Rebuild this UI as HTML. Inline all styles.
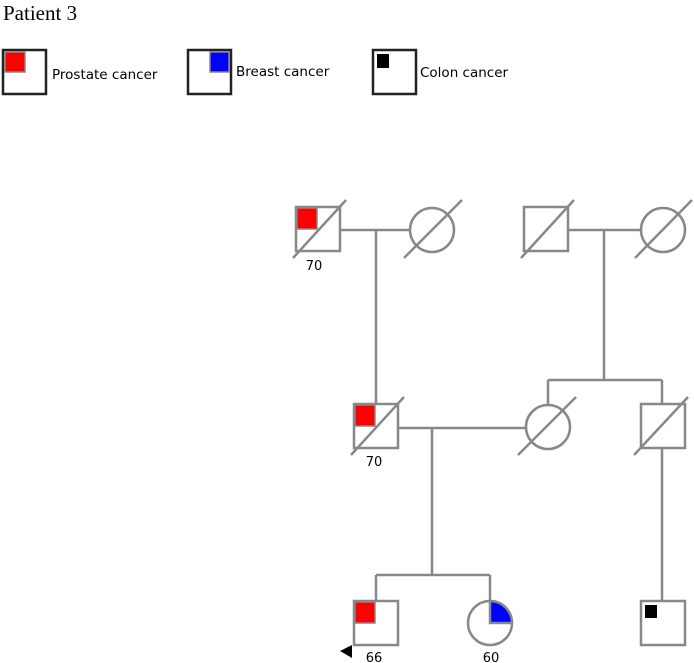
<!DOCTYPE html>
<html><head><style>
body{margin:0;background:#fff;width:694px;height:663px;overflow:hidden}
</style></head><body>
<svg width="694" height="663" xmlns="http://www.w3.org/2000/svg" style="position:absolute;left:0;top:0">
<text x="3" y="20" font-family="Liberation Serif, serif" font-size="21" fill="#000">Patient 3</text>
<g fill="none" stroke="#222" stroke-width="2.5">
<rect x="3" y="50" width="43" height="44" fill="#fff"/>
<rect x="188" y="50" width="43" height="44" fill="#fff"/>
<rect x="373" y="50" width="43" height="44" fill="#fff"/>
</g>
<rect x="5" y="52" width="20" height="20" fill="#f00" stroke="#888" stroke-width="1.5"/>
<rect x="210" y="52" width="19" height="20" fill="#00f" stroke="#888" stroke-width="1.5"/>
<rect x="377" y="54" width="12" height="14" fill="#000"/>
<g font-family="DejaVu Sans, sans-serif" font-size="13.5" fill="#000">
<text x="52" y="79">Prostate cancer</text>
<text x="236" y="76">Breast cancer</text>
<text x="420" y="77">Colon cancer</text>
</g>
<g stroke="#888" stroke-width="2.5" fill="none">
<!-- gen1 -->
<line x1="341" y1="230" x2="410" y2="230"/>
<line x1="376" y1="230" x2="376" y2="405"/>
<line x1="569" y1="230" x2="641" y2="230"/>
<line x1="604" y1="230" x2="604" y2="380"/>
<line x1="548" y1="380" x2="662" y2="380"/>
<line x1="548" y1="380" x2="548" y2="405"/>
<line x1="662" y1="380" x2="662" y2="405"/>
<!-- gen2 -->
<line x1="398" y1="428" x2="526" y2="428"/>
<line x1="432" y1="428" x2="432" y2="575"/>
<line x1="376" y1="575" x2="490" y2="575"/>
<line x1="376" y1="575" x2="376" y2="601"/>
<line x1="490" y1="575" x2="490" y2="601"/>
<line x1="662" y1="449" x2="662" y2="601"/>
</g>
<g stroke="#888" stroke-width="2.5" fill="#fff">
<rect x="296" y="207" width="44" height="44"/>
<circle cx="432" cy="230" r="22"/>
<rect x="524" y="207" width="44" height="44"/>
<circle cx="663" cy="230" r="22"/>
<rect x="354" y="404" width="44" height="44"/>
<circle cx="548" cy="427" r="22"/>
<rect x="641" y="404" width="44" height="44"/>
<rect x="354" y="601" width="44" height="44"/>
<circle cx="490" cy="623" r="22"/>
<rect x="641" y="601" width="44" height="44"/>
</g>
<rect x="297" y="208" width="20" height="21" fill="#f00" stroke="#888" stroke-width="1.5"/>
<rect x="355" y="405" width="20" height="21" fill="#f00" stroke="#888" stroke-width="1.5"/>
<rect x="355" y="602" width="20" height="21" fill="#f00" stroke="#888" stroke-width="1.5"/>
<path d="M490 623 L490 601 A22 22 0 0 1 512 623 Z" fill="#00f" stroke="#888" stroke-width="2.5"/>
<rect x="645" y="605" width="12" height="13" fill="#000"/>
<g stroke="#888" stroke-width="2.5">
<line x1="293" y1="258" x2="346" y2="200"/>
<line x1="404" y1="258" x2="462" y2="200"/>
<line x1="521" y1="258" x2="574" y2="200"/>
<line x1="635" y1="258" x2="692" y2="200"/>
<line x1="351" y1="455" x2="404" y2="397"/>
<line x1="518" y1="455" x2="576" y2="397"/>
<line x1="634" y1="455" x2="688" y2="397"/>
</g>
<path d="M340 651 L352 645 L352 658 Z" fill="#000"/>
<g font-family="DejaVu Sans, sans-serif" font-size="13" fill="#000" text-anchor="middle">
<text x="314" y="270">70</text>
<text x="374" y="466">70</text>
<text x="374" y="662">66</text>
<text x="491" y="662">60</text>
</g>
</svg>
</body></html>
